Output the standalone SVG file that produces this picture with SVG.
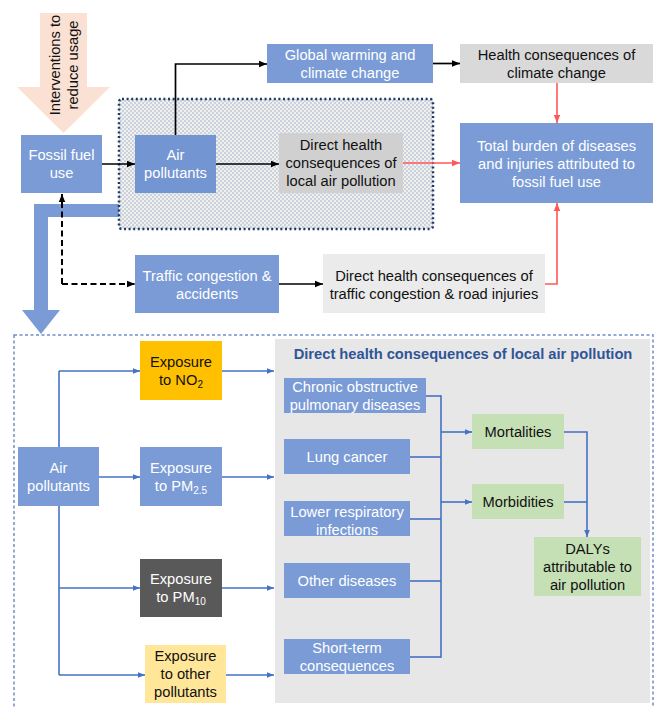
<svg xmlns="http://www.w3.org/2000/svg" width="656" height="707" viewBox="0 0 656 707">
<defs>
<style>
text{font-family:"Liberation Sans",Arial,sans-serif;font-size:14.7px;text-anchor:middle}
.w{fill:#fff}
.k{fill:#111}
.blue{fill:#7A9BD6}
.cb{stroke:#000;stroke-width:1.7;fill:none}
.cr{stroke:#FF5757;stroke-width:1.6;fill:none}
.cl{stroke:#4472C4;stroke-width:1.6;fill:none}
.dash{stroke-width:2;stroke-dasharray:6 3.5}
.sub{font-size:10px}
</style>
<pattern id="hatch" width="4" height="4" patternUnits="userSpaceOnUse">
<rect width="4" height="4" fill="#F1F1E9"/>
<rect width="2" height="2" fill="#CAD1E0"/>
<rect x="2" y="2" width="2" height="2" fill="#CAD1E0"/>
</pattern>
<marker id="mk" viewBox="0 0 10 10" refX="10" refY="5" markerWidth="8" markerHeight="8" markerUnits="userSpaceOnUse" orient="auto"><path d="M0,1 L10,5 L0,9 z" fill="#000"/></marker>
<marker id="mr" viewBox="0 0 10 10" refX="10" refY="5" markerWidth="8" markerHeight="8" markerUnits="userSpaceOnUse" orient="auto"><path d="M0,1 L10,5 L0,9 z" fill="#FF5757"/></marker>
<marker id="ml" viewBox="0 0 10 10" refX="10" refY="5" markerWidth="7" markerHeight="7" markerUnits="userSpaceOnUse" orient="auto"><path d="M0,1 L10,5 L0,9 z" fill="#4472C4"/></marker>
</defs>
<rect width="656" height="707" fill="#fff"/>

<!-- background shapes -->
<g id="bent-arrow">
<polygon points="125,204 34,204 34,310 22,310 41,334 60,310 48,310 48,217 125,217" fill="#7A9BD6"/>
</g>
<g id="interventions">
<polygon points="40,13 87,13 87,87 110,87 63.5,133 17,87 40,87" fill="#FBE1D3"/>
<text class="k" transform="translate(63.5,65) rotate(-90)"><tspan x="0" y="-3.5">Interventions to</tspan><tspan x="0" y="14">reduce usage</tspan></text>
</g>
<g id="air-group">
<rect x="119" y="99" width="314" height="130" rx="3" fill="url(#hatch)" stroke="#1F3864" stroke-width="2.5" stroke-dasharray="2 2.6"/>
</g>
<g id="outer-group">
<rect x="14" y="335" width="639" height="380" fill="none" stroke="#6F8FCC" stroke-width="1.5" stroke-dasharray="3 2.5"/>
<rect x="275" y="339" width="375" height="364" fill="#E7E7E7"/>
<text x="463" y="359" style="font-weight:bold;fill:#2F5597">Direct health consequences of local air pollution</text>
</g>

<!-- connectors -->
<g id="connectors">
<line class="cb" x1="102" y1="164" x2="135" y2="164" marker-end="url(#mk)"/>
<polyline class="cb" points="175.5,135 175.5,64 267,64" marker-end="url(#mk)"/>
<line class="cb" x1="216" y1="164" x2="279" y2="164" marker-end="url(#mk)"/>
<line class="cb" x1="433" y1="63.5" x2="460" y2="63.5" marker-end="url(#mk)"/>
<line class="cb" x1="279" y1="284" x2="323" y2="284" marker-end="url(#mk)"/>
<polyline class="cb dash" points="62,284 62,194" marker-end="url(#mk)"/>
<polyline class="cb dash" points="62,284 135,284" marker-end="url(#mk)"/>
<line class="cr" x1="557" y1="83" x2="557" y2="123" marker-end="url(#mr)"/>
<line class="cr" x1="403" y1="163" x2="460" y2="163" marker-end="url(#mr)"/>
<polyline class="cr" points="545,284 557,284 557,203" marker-end="url(#mr)"/>

<line class="cl" x1="59" y1="371" x2="59" y2="675"/>
<polyline class="cl" points="59,371 140,371" marker-end="url(#ml)"/>
<line class="cl" x1="99" y1="477" x2="140" y2="477" marker-end="url(#ml)"/>
<polyline class="cl" points="59,588 140,588" marker-end="url(#ml)"/>
<polyline class="cl" points="59,675 145,675" marker-end="url(#ml)"/>
<line class="cl" x1="222" y1="371" x2="274" y2="371" marker-end="url(#ml)"/>
<line class="cl" x1="222" y1="477" x2="274" y2="477" marker-end="url(#ml)"/>
<line class="cl" x1="222" y1="588" x2="274" y2="588" marker-end="url(#ml)"/>
<line class="cl" x1="226" y1="675" x2="274" y2="675" marker-end="url(#ml)"/>

<line class="cl" x1="426" y1="396" x2="441" y2="396"/>
<line class="cl" x1="410" y1="457" x2="441" y2="457"/>
<line class="cl" x1="410" y1="519" x2="441" y2="519"/>
<line class="cl" x1="410" y1="581" x2="441" y2="581"/>
<line class="cl" x1="410" y1="657" x2="441" y2="657"/>
<line class="cl" x1="441" y1="395.2" x2="441" y2="657.8"/>
<line class="cl" x1="441" y1="432" x2="472" y2="432" marker-end="url(#ml)"/>
<line class="cl" x1="441" y1="502" x2="472" y2="502" marker-end="url(#ml)"/>
<polyline class="cl" points="564,432 587,432 587,537" marker-end="url(#ml)"/>
<line class="cl" x1="564" y1="502" x2="587" y2="502"/>
</g>

<!-- top nodes -->
<g id="fossil">
<rect class="blue" x="21" y="135" width="81" height="58"/>
<text class="w" x="61.5" y="160">Fossil fuel</text><text class="w" x="61.5" y="178">use</text>
</g>
<g id="air-top">
<rect x="135" y="135" width="81" height="58" fill="#7395D2"/>
<text class="w" x="175.5" y="160">Air</text><text class="w" x="175.5" y="178">pollutants</text>
</g>
<g id="global">
<rect class="blue" x="267" y="44" width="166" height="39"/>
<text class="w" x="350" y="60">Global warming and</text><text class="w" x="350" y="78">climate change</text>
</g>
<g id="climate-health">
<rect x="460" y="44" width="193" height="39" fill="#D9D9D9"/>
<text class="k" x="556.5" y="60">Health consequences of</text><text class="k" x="556.5" y="78">climate change</text>
</g>
<g id="local-health">
<rect x="279" y="133" width="124" height="60" fill="#D0D0D0"/>
<text class="k" x="341" y="150">Direct health</text><text class="k" x="341" y="168">consequences of</text><text class="k" x="341" y="186">local air pollution</text>
</g>
<g id="total">
<rect class="blue" x="460" y="123" width="193" height="80"/>
<text class="w" x="556.5" y="151">Total burden of diseases</text><text class="w" x="556.5" y="169">and injuries attributed to</text><text class="w" x="556.5" y="187">fossil fuel use</text>
</g>
<g id="traffic">
<rect class="blue" x="135" y="255" width="144" height="58"/>
<text class="w" x="207" y="281">Traffic congestion &amp;</text><text class="w" x="207" y="298.5">accidents</text>
</g>
<g id="traffic-health">
<rect x="323" y="254" width="222" height="59" fill="#EBEBEB"/>
<text class="k" x="434" y="281">Direct health consequences of</text><text class="k" x="434" y="298.5">traffic congestion &amp; road injuries</text>
</g>

<!-- bottom nodes -->
<g id="air-bottom">
<rect class="blue" x="18" y="447" width="81" height="59"/>
<text class="w" x="58.5" y="473">Air</text><text class="w" x="58.5" y="491">pollutants</text>
</g>
<g id="no2">
<rect x="140" y="341" width="82" height="59" fill="#FFC000"/>
<text class="k" x="181" y="367">Exposure</text><text class="k" x="181" y="385">to NO<tspan class="sub" dy="3">2</tspan></text>
</g>
<g id="pm25">
<rect class="blue" x="140" y="447" width="82" height="59"/>
<text class="w" x="181" y="473">Exposure</text><text class="w" x="181" y="491">to PM<tspan class="sub" dy="3">2.5</tspan></text>
</g>
<g id="pm10">
<rect x="140" y="559" width="82" height="58" fill="#595959"/>
<text class="w" x="181" y="584">Exposure</text><text class="w" x="181" y="602">to PM<tspan class="sub" dy="3">10</tspan></text>
</g>
<g id="other-pollutants">
<rect x="145" y="645" width="81" height="58" fill="#FFE699"/>
<text class="k" x="185.5" y="661">Exposure</text><text class="k" x="185.5" y="679">to other</text><text class="k" x="185.5" y="697">pollutants</text>
</g>
<g id="copd">
<rect class="blue" x="284" y="378" width="142" height="35"/>
<text class="w" x="355" y="392">Chronic obstructive</text><text class="w" x="355" y="410">pulmonary diseases</text>
</g>
<g id="lung">
<rect class="blue" x="284" y="439" width="126" height="35"/>
<text class="w" x="347" y="461.5">Lung cancer</text>
</g>
<g id="lri">
<rect class="blue" x="284" y="501" width="126" height="35"/>
<text class="w" x="347" y="517">Lower respiratory</text><text class="w" x="347" y="534.5">infections</text>
</g>
<g id="other-diseases">
<rect class="blue" x="284" y="563" width="126" height="35"/>
<text class="w" x="347" y="585.5">Other diseases</text>
</g>
<g id="short-term">
<rect class="blue" x="284" y="639" width="126" height="35"/>
<text class="w" x="347" y="653">Short-term</text><text class="w" x="347" y="671">consequences</text>
</g>
<g id="mortalities">
<rect x="472" y="414" width="92" height="35" fill="#C5E0B4"/>
<text class="k" x="518" y="436.5">Mortalities</text>
</g>
<g id="morbidities">
<rect x="472" y="484" width="92" height="35" fill="#C5E0B4"/>
<text class="k" x="518" y="506.5">Morbidities</text>
</g>
<g id="dalys">
<rect x="534" y="537" width="107" height="59" fill="#C5E0B4"/>
<text class="k" x="587.5" y="554">DALYs</text><text class="k" x="587.5" y="572">attributable to</text><text class="k" x="587.5" y="590">air pollution</text>
</g>
</svg>
